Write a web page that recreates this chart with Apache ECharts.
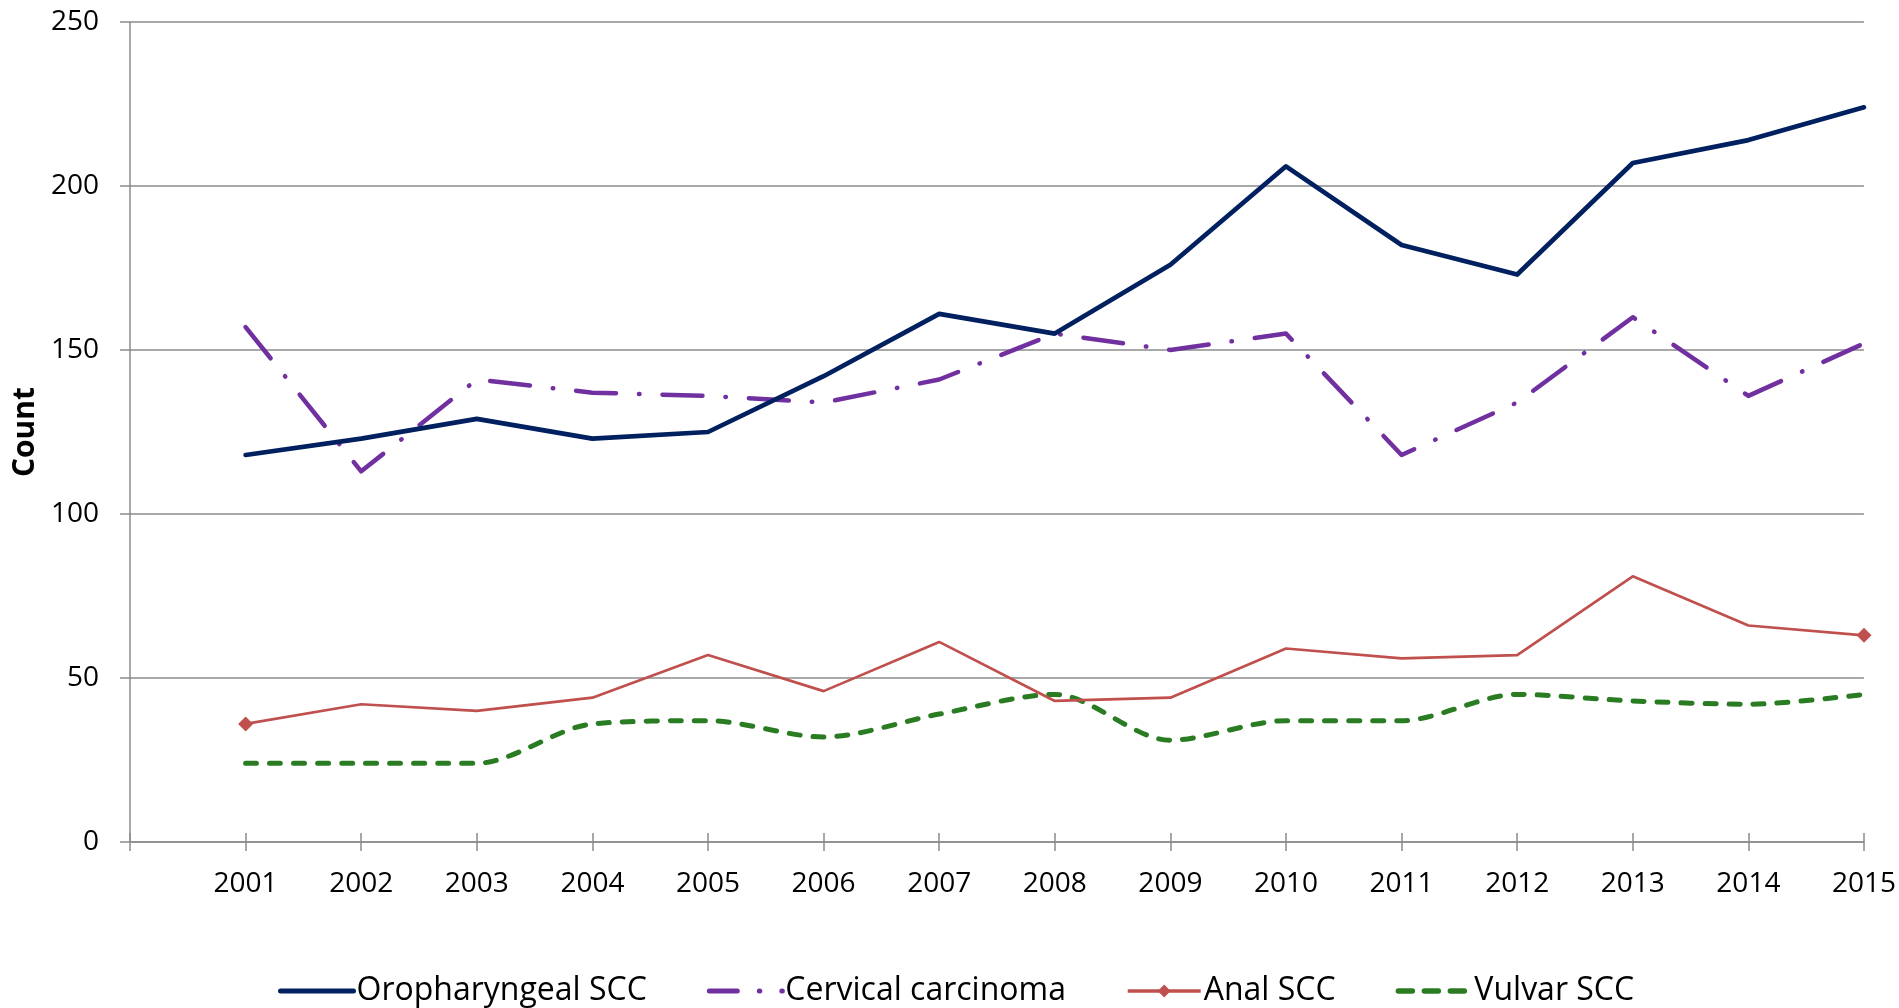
<!DOCTYPE html>
<html>
<head>
<meta charset="utf-8">
<script src="https://cdn.jsdelivr.net/npm/echarts@6/dist/echarts.min.js"></script>
<style>
html,body{margin:0;padding:0;background:#fff;}
#chart{width:1899px;height:1008px;}
</style>
</head>
<body>
<div id="chart"></div>
<script>
const categories = ['', '2001','2002','2003','2004','2005','2006','2007','2008','2009','2010','2011','2012','2013','2014','2015'];
const oropharyngeal = [null, 118,123,129,123,125,142,161,155,176,206,182,173,207,214,224];
const cervical = [null, 157,113,141,137,136,134,141,155,150,155,118,134,160,136,152];
const anal = [null, 36,42,40,44,57,46,61,43,44,59,56,57,81,66,63];
const vulvar = [null, 24,24,24,36,37,32,39,45,31,37,37,45,43,42,45];
const yTicks = [0, 50, 100, 150, 200, 250];

const FONT = '"Open Sans", "Noto Sans", sans-serif';
const GRAY = '#8c8c8c';

// Anal SCC: diamond markers only at first and last points
const analData = anal.map((v, i) => {
  const last = anal.length - 1;
  if (v === null) return v;
  if (i === 1 || i === last) return { value: v };
  return { value: v, symbol: 'none' };
});

const chart = echarts.init(document.getElementById('chart'), null, { renderer: 'canvas' });
chart.setOption({
  animation: false,
  backgroundColor: '#fff',
  textStyle: { fontFamily: FONT },
  grid: { left: 130, right: 35, top: 22, bottom: 166, containLabel: false },
  legend: {
    left: 273,
    top: 970,
    itemWidth: 73,
    itemHeight: 16,
    itemGap: 60,
    textStyle: { fontSize: 32, color: '#000', fontFamily: FONT, padding: [0, 0, 0, -2] },
    data: [
      { name: 'Oropharyngeal SCC', itemStyle: { opacity: 0 }, lineStyle: { width: 5, cap: 'round' } },
      { name: 'Cervical carcinoma', itemStyle: { opacity: 0 }, lineStyle: { width: 5, cap: 'round', type: [28, 22, 0.5, 22] } },
      { name: 'Anal SCC', lineStyle: { width: 3.5 } },
      { name: 'Vulvar SCC', itemStyle: { opacity: 0 }, lineStyle: { width: 5.5, cap: 'round', type: [14, 12] } }
    ]
  },
  xAxis: [{
    type: 'category',
    data: categories,
    boundaryGap: false,
    axisLine: { show: true, lineStyle: { color: GRAY, width: 1.5 } },
    axisTick: { show: true, interval: 0, length: 9, lineStyle: { color: GRAY, width: 1.5 } },
    axisLabel: { interval: 0, margin: 28, fontSize: 28, color: '#000', fontFamily: FONT },
    splitLine: { show: false }
  }, {
    type: 'category',
    data: categories,
    boundaryGap: false,
    position: 'bottom',
    axisLine: { show: false },
    axisTick: { show: true, inside: true, interval: 0, length: 9, lineStyle: { color: GRAY, width: 1.5 } },
    axisLabel: { show: false },
    splitLine: { show: false }
  }],
  yAxis: {
    type: 'value',
    min: yTicks[0],
    max: yTicks[yTicks.length - 1],
    interval: 50,
    name: 'Count',
    nameLocation: 'middle',
    nameGap: 88,
    nameTextStyle: { fontSize: 30, fontWeight: 'bold', color: '#000', fontFamily: FONT },
    axisLine: { show: true, lineStyle: { color: GRAY, width: 1.5 } },
    axisTick: { show: true, length: 10, lineStyle: { color: GRAY, width: 1.5 } },
    axisLabel: { margin: 31, fontSize: 28, color: '#000', fontFamily: FONT },
    splitLine: { show: true, lineStyle: { color: GRAY, width: 1.5 } }
  },
  series: [{
    name: 'Oropharyngeal SCC',
    type: 'line',
    data: oropharyngeal,
    symbol: 'none',
    color: '#002060',
    lineStyle: { color: '#002060', width: 4.7, cap: 'round', join: 'round' },
    z: 5
  }, {
    name: 'Cervical carcinoma',
    type: 'line',
    data: cervical,
    symbol: 'none',
    color: '#7030a0',
    lineStyle: { color: '#7030a0', width: 4.5, type: [40, 23, 0.5, 23], cap: 'round', join: 'round' },
    z: 4
  }, {
    name: 'Anal SCC',
    type: 'line',
    data: analData,
    symbol: 'diamond',
    symbolSize: 15,
    showAllSymbol: true,
    color: '#c0504d',
    itemStyle: { color: '#c0504d' },
    lineStyle: { color: '#c0504d', width: 2.7 },
    z: 3
  }, {
    name: 'Vulvar SCC',
    type: 'line',
    data: vulvar,
    symbol: 'none',
    smooth: 0.3,
    color: '#2a7c22',
    lineStyle: { color: '#2a7c22', width: 5, type: [11, 13], cap: 'round', join: 'round' },
    z: 2
  }]
});
</script>
</body>
</html>
